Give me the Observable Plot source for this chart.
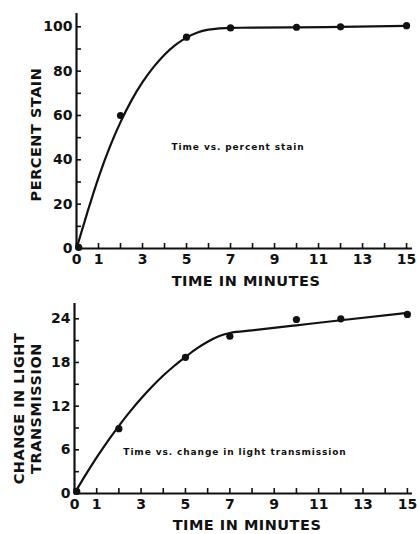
<!DOCTYPE html>
<html><head><meta charset="utf-8">
<script src="https://cdn.jsdelivr.net/npm/d3@7"></script>
<script src="https://cdn.jsdelivr.net/npm/@observablehq/plot@0.6"></script>
<style>
html,body{margin:0;padding:0;background:#fff;}
#chart svg{display:block;}
</style></head><body><div id="chart"></div>
<script>
// Observed points
const minutes = [0.1, 2, 5, 7, 10, 12, 15];
const percentStain = [0.5, 60, 95.3, 99.5, 99.8, 100, 100.5];
const lightChange = [0.3, 8.9, 18.7, 21.6, 23.9, 24.0, 24.6];
// Hand-drawn fitted curves
const curveMinutes = [0, 0.5, 1, 1.5, 2, 2.5, 3, 3.5, 4, 4.5, 5, 5.5, 6, 6.5, 7, 8, 10, 12, 15];
const stainCurve = [0, 16.5, 32, 45.5, 57, 66.8, 75, 81.8, 87.4, 91.8, 95.1, 97.4, 98.7, 99.3, 99.55, 99.6, 99.75, 99.95, 100.4];
const lightCurve = [0, 2.55, 4.95, 7.2, 9.3, 11.25, 13.05, 14.7, 16.2, 17.55, 18.75, 19.9, 20.85, 21.6, 22.05, 22.4, 23.1, 23.8, 24.8];
// Ticks
const xTicks = [0, 1, 2, 3, 4, 5, 6, 7, 8, 9, 10, 11, 12, 13, 14, 15];
const xTickLabels = [0, 1, 3, 5, 7, 9, 11, 13, 15];
const stainTicks = [0, 10, 20, 30, 40, 50, 60, 70, 80, 90, 100];
const stainTickLabels = [0, 20, 40, 60, 80, 100];
const lightTicks = [0, 3, 6, 9, 12, 15, 18, 21, 24];
const lightTickLabels = [0, 6, 12, 18, 24];
// Texts
const xTitle = "TIME IN MINUTES";
const stainTitle = "PERCENT STAIN";
const lightTitle = "CHANGE IN LIGHT\nTRANSMISSION";
const stainCaption = "Time vs. percent stain";
const lightCaption = "Time vs. change in light transmission";

const INK = "#111";
const FONT = "DejaVu Sans";

function panel(cfg) {
  const pts = minutes.map((m, i) => ({m, v: cfg.values[i]}));
  const crv = curveMinutes.map((m, i) => ({m, v: cfg.curve[i]}));
  return Plot.plot({
    width: 420,
    height: cfg.height,
    marginLeft: cfg.marginLeft,
    marginRight: 8,
    marginTop: cfg.marginTop,
    marginBottom: cfg.marginBottom,
    style: {fontFamily: FONT, color: INK, background: "#fff"},
    x: {domain: [0, cfg.xMax], axis: null},
    y: {domain: [0, cfg.yMax], axis: null},
    marks: [
      Plot.axisX(xTicks, {
        anchor: "bottom", tickSize: -5, tickPadding: 11, strokeWidth: 1.6,
        tickFormat: d => xTickLabels.includes(d) ? String(d) : "",
        fontSize: 14, fontWeight: "bold", fill: INK, stroke: INK, label: null
      }),
      Plot.axisY(cfg.yTicks, {
        anchor: "left", tickSize: -5, tickPadding: 9, strokeWidth: 1.6,
        tickFormat: d => cfg.yTickLabels.includes(d) ? String(d) : "",
        fontSize: 14, fontWeight: "bold", fill: INK, stroke: INK, label: null
      }),
      Plot.ruleX([0], {stroke: INK, strokeWidth: 2.2}),
      Plot.ruleY([0], {stroke: INK, strokeWidth: 2.2}),
      Plot.line(crv, {x: "m", y: "v", curve: "monotone-x", stroke: INK, strokeWidth: 2.2}),
      Plot.dot(pts, {x: "m", y: "v", r: 3.6, fill: INK, stroke: "none"}),
      Plot.text([cfg.title], {
        frameAnchor: "left", rotate: -90, dx: cfg.titleDx, dy: cfg.titleDy,
        textAnchor: "middle", lineAnchor: "middle", lineHeight: 1.17,
        fontSize: 14.5, fontWeight: "bold", fill: INK
      }),
      Plot.text([xTitle], {
        frameAnchor: "bottom", dx: cfg.xTitleDx, dy: cfg.xTitleDy,
        textAnchor: "middle", lineAnchor: "middle",
        fontSize: 14.5, fontWeight: "bold", fill: INK
      }),
      Plot.text([cfg.caption], {
        frameAnchor: "top-left", dx: cfg.capDx, dy: cfg.capDy,
        textAnchor: "middle", lineAnchor: "middle",
        fontSize: 9, fontWeight: "bold", fill: INK
      })
    ]
  });
}

const topPanel = panel({
  height: 292, marginLeft: 76, marginTop: 13, marginBottom: 44,
  xMax: 15.27, yMax: 106,
  values: percentStain, curve: stainCurve,
  yTicks: stainTicks, yTickLabels: stainTickLabels,
  title: stainTitle, titleDx: -41, titleDy: 3.5,
  xTitleDx: 1.5, xTitleDy: 32.5,
  caption: stainCaption, capDx: 161.5, capDy: 134
});
const bottomPanel = panel({
  height: 242, marginLeft: 74, marginTop: 11, marginBottom: 41,
  xMax: 15.23, yMax: 26.1,
  values: lightChange, curve: lightCurve,
  yTicks: lightTicks, yTickLabels: lightTickLabels,
  title: lightTitle, titleDx: -47, titleDy: 10,
  xTitleDx: 3.5, xTitleDy: 31.5,
  caption: lightCaption, capDx: 160.5, capDy: 149
});

const host = document.getElementById("chart");
host.append(topPanel, bottomPanel);

// letter spacing for the lettering-style titles and captions
d3.selectAll("#chart text").each(function() {
  const t = this.textContent;
  if (t === stainCaption || t === lightCaption) d3.select(this).attr("letter-spacing", "0.9px");
  else if (t === xTitle || t === stainTitle) d3.select(this).attr("letter-spacing", "0.5px");
});
d3.selectAll("#chart tspan").each(function() {
  d3.select(this.parentNode).attr("letter-spacing", "0.5px");
});
</script></body></html>
